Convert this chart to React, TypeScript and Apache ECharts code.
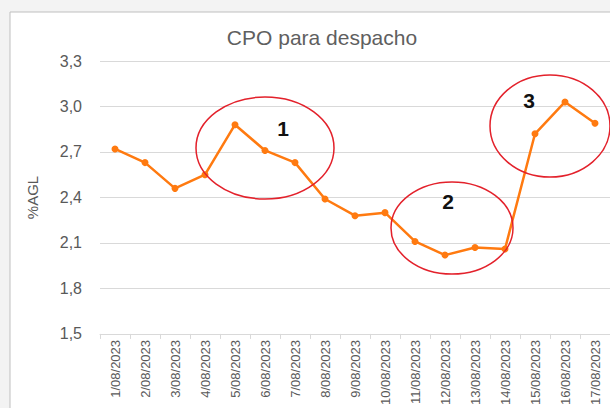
import React, { useEffect, useRef } from "react";
import * as echarts from "echarts";

const categories = [
  "1/08/2023", "2/08/2023", "3/08/2023", "4/08/2023", "5/08/2023", "6/08/2023",
  "7/08/2023", "8/08/2023", "9/08/2023", "10/08/2023", "11/08/2023", "12/08/2023",
  "13/08/2023", "14/08/2023", "15/08/2023", "16/08/2023", "17/08/2023",
];
const cpoValues = [2.72, 2.63, 2.46, 2.55, 2.88, 2.71, 2.63, 2.39, 2.28, 2.3, 2.11, 2.02, 2.07, 2.06, 2.82, 3.03, 2.89];
const yTicks = [1.5, 1.8, 2.1, 2.4, 2.7, 3.0, 3.3];
const titleText = "CPO para despacho";
const yAxisName = "%AGL";
const annotations = [
  { label: "1", cx: 265, cy: 148, rx: 69, ry: 51, tx: 283, ty: 128 },
  { label: "2", cx: 452, cy: 228, rx: 61, ry: 46, tx: 448, ty: 201 },
  { label: "3", cx: 550, cy: 126, rx: 60, ry: 51, tx: 529, ty: 100 },
];

const FONT = "Liberation Sans";
const GREY = "#595959";

export default function App() {
  const ref = useRef<HTMLDivElement>(null);
  useEffect(() => {
    if (!ref.current) return;
    const chart = echarts.init(ref.current, undefined, { renderer: "svg" });
    const graphics: any[] = [
      {
        type: "rect",
        z: -10,
        shape: { x: 10, y: 12, width: 640, height: 440 },
        style: { fill: "#ffffff", stroke: "#bfbfbf", lineWidth: 1 },
        silent: true,
      },
    ];
    annotations.forEach((a) => {
      graphics.push({
        type: "ellipse",
        z: 100,
        shape: { cx: a.cx, cy: a.cy, rx: a.rx, ry: a.ry },
        style: { fill: "none", stroke: "#e3212b", lineWidth: 1.5 },
        silent: true,
      });
      graphics.push({
        type: "text",
        z: 100,
        x: a.tx,
        y: a.ty,
        style: {
          text: a.label,
          fill: "#111111",
          font: `bold 21px '${FONT}'`,
          align: "center",
          verticalAlign: "middle",
        },
        silent: true,
      });
    });
    chart.setOption({
      animation: false,
      backgroundColor: "#f3f3f3",
      title: {
        text: titleText,
        left: 317,
        top: 22,
        textAlign: "center",
        textStyle: { fontFamily: FONT, fontSize: 21, fontWeight: "normal", color: "#5f5f5f" },
      },
      grid: { left: 100, right: 0, top: 61, bottom: 71, containLabel: false },
      xAxis: {
        type: "category",
        data: categories,
        boundaryGap: true,
        axisLine: { show: true, lineStyle: { color: "#d9d9d9", width: 1 } },
        axisTick: { show: true, alignWithLabel: false, length: 5, lineStyle: { color: "#d9d9d9" } },
        axisLabel: {
          rotate: 90,
          interval: 0,
          margin: 6,
          fontFamily: FONT,
          fontSize: 13,
          color: GREY,
        },
      },
      yAxis: {
        type: "value",
        min: yTicks[0],
        max: yTicks[yTicks.length - 1],
        interval: 0.3,
        name: yAxisName,
        nameLocation: "middle",
        nameGap: 60,
        nameTextStyle: { fontFamily: FONT, fontSize: 15, color: GREY },
        axisLine: { show: false },
        axisTick: { show: false },
        axisLabel: {
          margin: 18,
          fontFamily: FONT,
          fontSize: 16,
          color: GREY,
          formatter: (v: number) => v.toFixed(1).replace(".", ","),
        },
        splitLine: { show: true, lineStyle: { color: "#d9d9d9", width: 1 } },
      },
      series: [
        {
          type: "line",
          data: cpoValues,
          symbol: "circle",
          symbolSize: 7,
          lineStyle: { color: "#ff7a10", width: 2.5 },
          itemStyle: { color: "#ff7a10" },
        },
      ],
      graphic: graphics,
    });
    return () => chart.dispose();
  }, []);
  return (
    <div
      ref={ref}
      style={{ position: "fixed", left: 0, top: 0, width: 610, height: 408 }}
    />
  );
}
